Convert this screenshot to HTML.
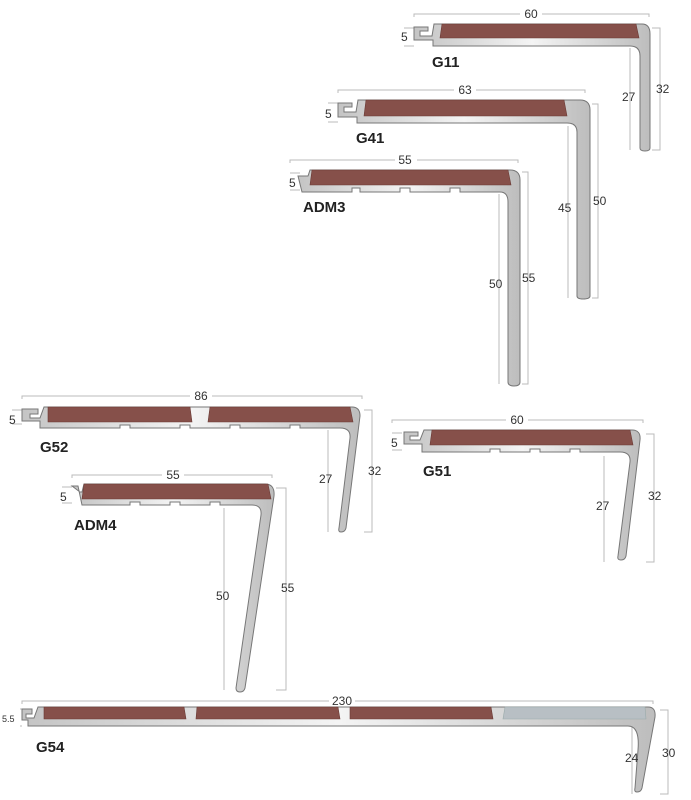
<!DOCTYPE html>
<html><head><meta charset="utf-8"><style>
body{margin:0;background:#fff}
svg{display:block}
text{font-family:"Liberation Sans",sans-serif;fill:#333}
.d{stroke:#bbb;stroke-width:1;fill:none}
.m{fill:url(#g);stroke:#777;stroke-width:1}
.b{fill:#86504a;stroke:#6a3a35;stroke-width:.6}
.n{font-size:12px}
.l{font-size:15px;font-weight:bold;fill:#222}
</style></head><body>
<svg width="691" height="800" viewBox="0 0 691 800">
<defs>
<linearGradient id="g" x1="0" y1="0" x2="1" y2="0">
<stop offset="0" stop-color="#c4c4c4"/><stop offset=".5" stop-color="#f4f4f4"/><stop offset="1" stop-color="#bdbdbd"/>
</linearGradient>
</defs>

<!-- G11 -->
<path class="d" d="M414,17V14H649V17 M404,28H414M404,46H414 M630,48V150 M652,28H660V150H652"/>
<rect x="520" y="8" width="22" height="12" fill="#fff"/>
<text class="n" x="531" y="18" text-anchor="middle">60</text>
<text class="n" x="401" y="41">5</text>
<path class="m" d="M414,27H428V31H420V36H432L434,24H642Q650,24 650,34V148Q650,151 645,151Q640,151 640,148V56Q640,46 630,46H433V40H414Z"/>
<path class="b" d="M442,24H636L639,38H440Z"/>
<text class="n" x="622" y="101">27</text>
<text class="n" x="656" y="93">32</text>
<text class="l" x="432" y="67">G11</text>

<!-- G41 -->
<path class="d" d="M338,93V90H585V93 M328,103H338M328,122H338 M568,126V298 M592,104H598V298H592"/>
<rect x="454" y="84" width="22" height="12" fill="#fff"/>
<text class="n" x="465" y="94" text-anchor="middle">63</text>
<text class="n" x="325" y="118">5</text>
<path class="m" d="M338,103H352V107H344V112H356L358,100H580Q590,100 590,110V296Q590,299 583,299Q577,299 577,296V132Q577,123 567,123H357V117H338Z"/>
<path class="b" d="M366,100H564L567,116H364Z"/>
<text class="n" x="558" y="212">45</text>
<text class="n" x="593" y="205">50</text>
<text class="l" x="356" y="143">G41</text>

<!-- ADM3 -->
<path class="d" d="M290,163V160H518V163 M290,173H300M290,190H300 M499,194V384 M522,172H528V384H522"/>
<rect x="395" y="154" width="22" height="12" fill="#fff"/>
<text class="n" x="405" y="164" text-anchor="middle">55</text>
<text class="n" x="289" y="187">5</text>
<path class="m" d="M298,176H308L310,170H510Q520,170 520,180V382Q520,386 514,386Q508,386 508,382V202Q508,192 500,192H460V188H450V192H410V188H400V192H360V188H352V192H302Z"/>
<path class="b" d="M312,170H508L511,185H310Z"/>
<text class="n" x="489" y="288">50</text>
<text class="n" x="522" y="282">55</text>
<text class="l" x="303" y="212">ADM3</text>

<!-- G52 -->
<path class="d" d="M22,399V396H362V399 M12,410H22M12,424H22 M328,430V532 M364,410H372V532H364"/>
<rect x="190" y="390" width="22" height="12" fill="#fff"/>
<text class="n" x="201" y="400" text-anchor="middle">86</text>
<text class="n" x="9" y="424">5</text>
<path class="m" d="M22,409H38V414H30V418H40L44,407H352Q360,407 360,416L346,528Q345,532 341,532Q338,532 339,528L350,438Q351,428 340,428H300V425H290V428H240V425H230V428H190V425H180V428H130V425H120V428H40V421H22Z"/>
<path class="b" d="M48,407H190L192,422H48Z M210,407H350L353,422H208Z"/>
<text class="n" x="319" y="483">27</text>
<text class="n" x="368" y="475">32</text>
<text class="l" x="40" y="452">G52</text>

<!-- G51 -->
<path class="d" d="M392,423V420H643V423 M392,433H402M392,450H402 M604,456V562 M646,434H654V562H646"/>
<rect x="506" y="414" width="22" height="12" fill="#fff"/>
<text class="n" x="517" y="424" text-anchor="middle">60</text>
<text class="n" x="391" y="447">5</text>
<path class="m" d="M404,432H418V436H410V440H420L424,430H632Q641,430 640,440L626,556Q625,560 621,560Q617,560 618,556L630,462Q631,452 620,452H580V449H570V452H540V449H530V452H500V449H490V452H422V444H404Z"/>
<path class="b" d="M432,430H630L633,445H430Z"/>
<text class="n" x="596" y="510">27</text>
<text class="n" x="648" y="500">32</text>
<text class="l" x="423" y="476">G51</text>

<!-- ADM4 -->
<path class="d" d="M72,478V475H272V478 M62,487H72M62,503H72 M224,508V690 M276,488H286V690H276"/>
<rect x="162" y="469" width="22" height="12" fill="#fff"/>
<text class="n" x="173" y="479" text-anchor="middle">55</text>
<text class="n" x="60" y="501">5</text>
<path class="m" d="M72,486H78L82,505H130V502H140V505H170V502H180V505H210V502H220V505H252Q262,505 261,515L236,688Q236,692 240,692Q244,692 245,688L274,496Q275,484 265,484H84L82,492H80Z"/>
<path class="b" d="M84,484H268L271,499H82Z"/>
<text class="n" x="216" y="600">50</text>
<text class="n" x="281" y="592">55</text>
<text class="l" x="74" y="530">ADM4</text>

<!-- G54 -->
<path class="d" d="M22,704V701H653V704 M20,709H22M20,726H22 M632,726V794 M660,710H668V794H660"/>
<rect x="329" y="695" width="26" height="12" fill="#fff"/>
<text class="n" x="342" y="705" text-anchor="middle">230</text>
<text style="font-size:9px" x="2" y="722">5.5</text>
<path class="m" d="M22,709H32V714H26V718H34L38,707H648Q656,707 655,717L642,788Q641,792 637,792Q634,792 635,788L638,750Q640,726 628,726H28V720H22Z"/>
<path class="b" d="M44,707H184L186,719H44Z M197,707H338L340,719H196Z M350,707H491L493,719H350Z"/>
<path d="M505,707H645L646,719H503Z" fill="#b8bfc4" stroke="#9aa" stroke-width=".6"/>
<text class="n" x="625" y="762">24</text>
<text class="n" x="662" y="757">30</text>
<text class="l" x="36" y="752">G54</text>
</svg>
</body></html>
